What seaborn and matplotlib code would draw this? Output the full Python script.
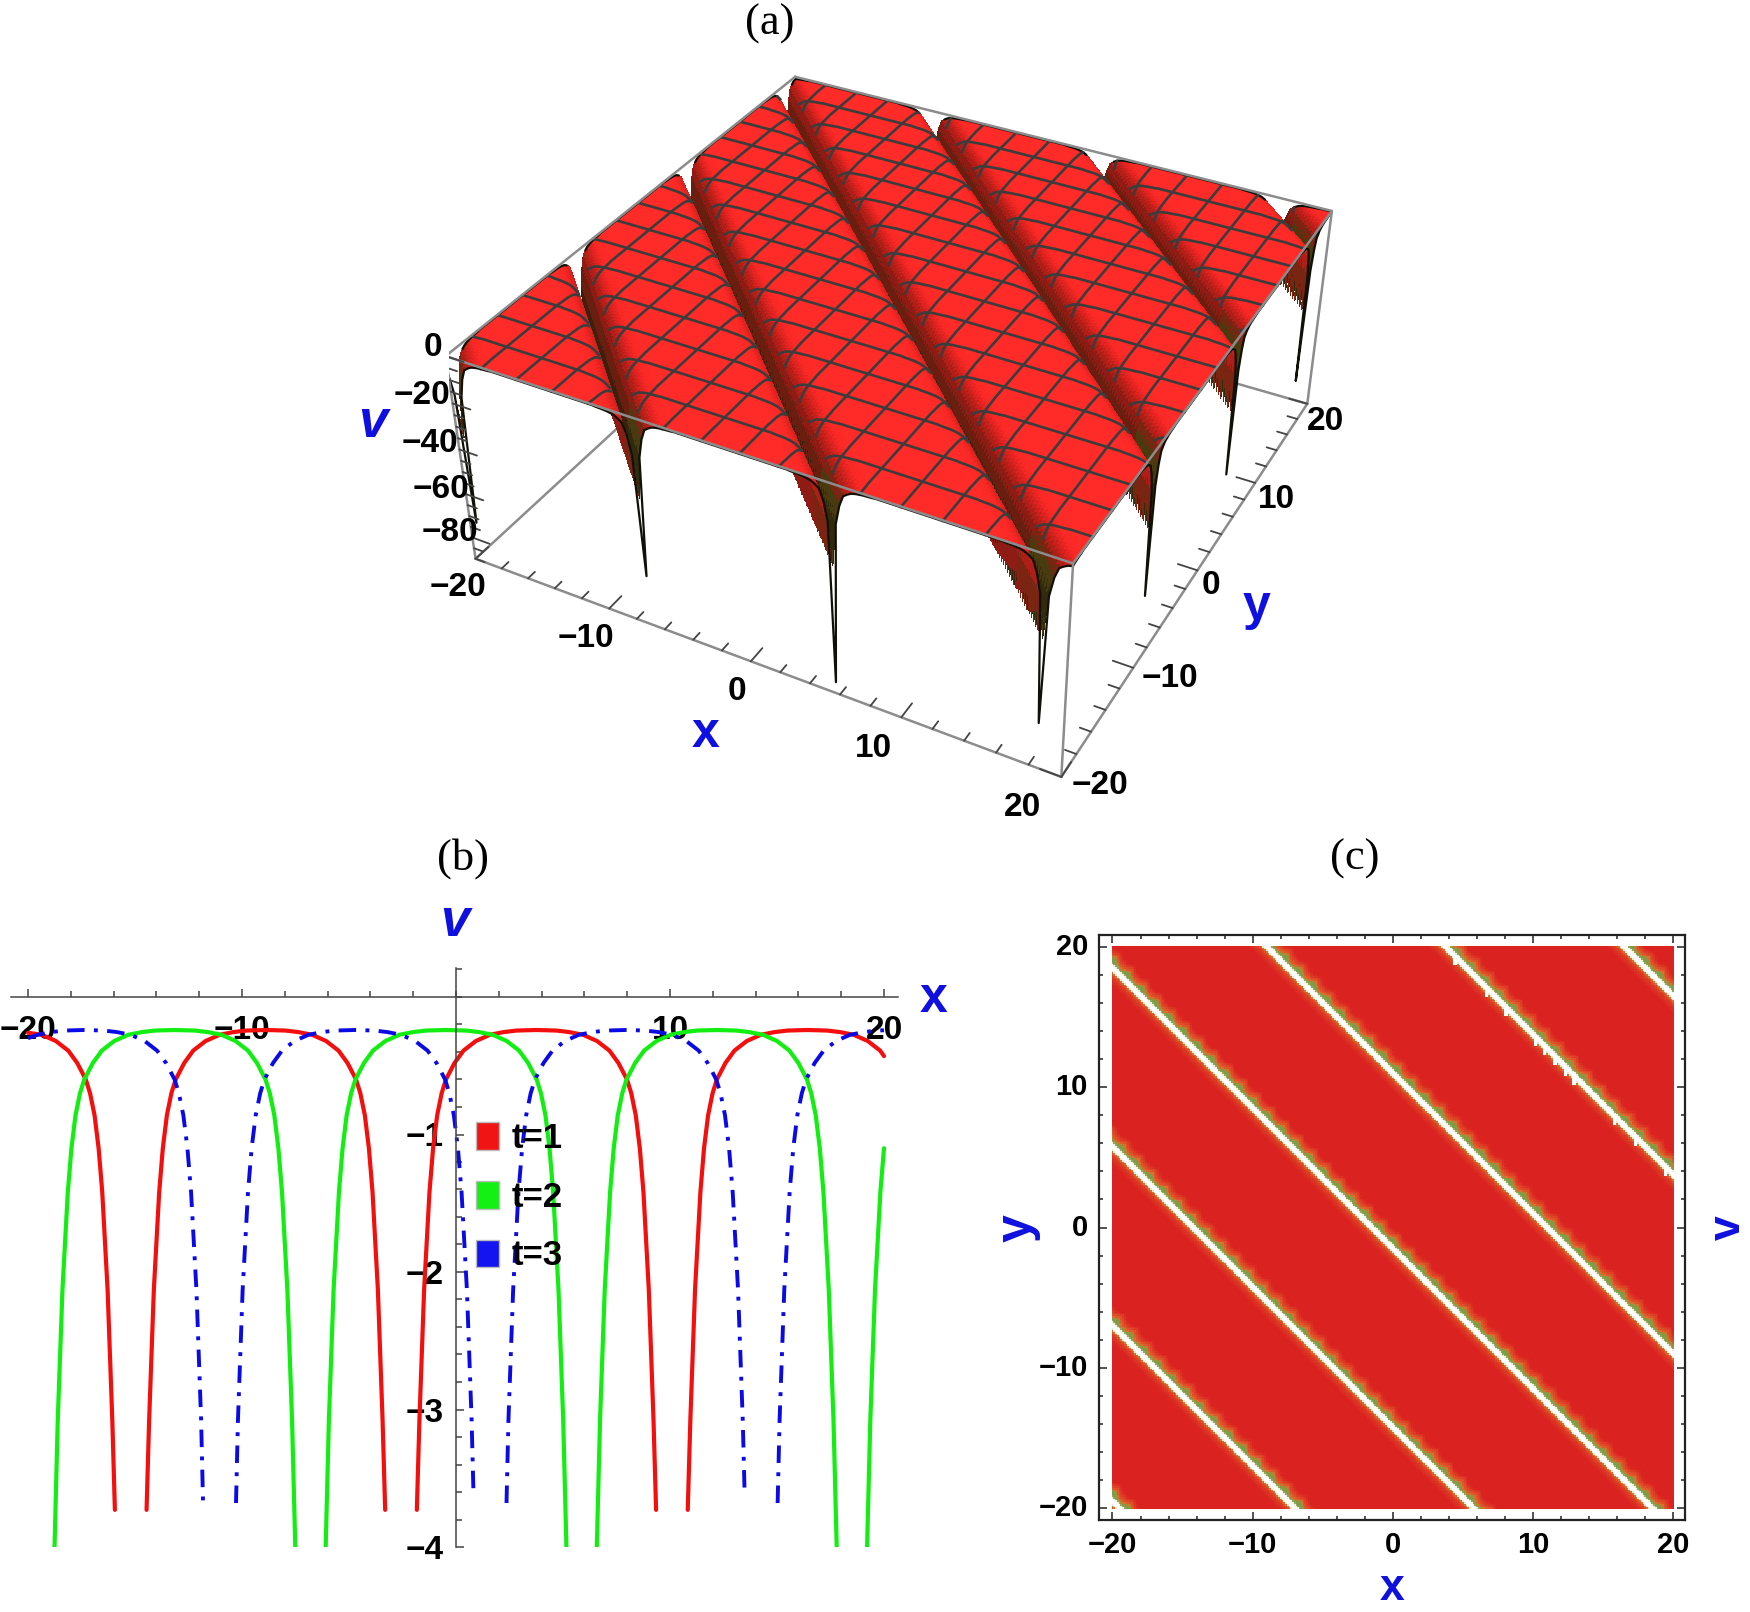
import numpy as np
import pandas as pd
import matplotlib
matplotlib.use("Agg")
import matplotlib.pyplot as plt
import seaborn as sns
from matplotlib.colors import LinearSegmentedColormap, Normalize
from matplotlib.patches import Patch

# --- values: one lobe at a time, x then v
red_lobe_v = [-3.73,-3.08,-2.13,-1.42,-1.10,-0.86,-0.70,-0.60,-0.48,-0.39,-0.32,-0.275,-0.255,-0.244,-0.24,
              -0.244,-0.255,-0.275,-0.32,-0.39,-0.48,-0.60,-0.70,-0.86,-1.10,-1.42,-2.13,-3.08,-3.73]
green_lobe_v = [-4.0,-3.08,-2.13,-1.42,-1.10,-0.86,-0.70,-0.60,-0.48,-0.39,-0.32,-0.275,-0.255,-0.244,-0.24,
                -0.244,-0.255,-0.275,-0.32,-0.39,-0.48,-0.60,-0.70,-0.86,-1.10,-1.42,-2.13,-3.08,-4.0]
blue_lobe_v = [-3.68,-3.08,-2.13,-1.42,-1.10,-0.86,-0.70,-0.60,-0.48,-0.39,-0.32,-0.275,-0.255,-0.244,-0.24,
               -0.244,-0.255,-0.275,-0.32,-0.39,-0.48,-0.60,-0.70,-0.86,-1.10,-1.42,-2.13,-3.08,-3.63]

red_x = [
    [-20.0,-19.35,-18.7,-18.12,-17.7,-17.3,-17.1,-16.89,-16.7,-16.53,-16.28,-16.06,-15.94],
    [-14.46,-14.34,-14.12,-13.87,-13.7,-13.51,-13.3,-13.1,-12.7,-12.28,-11.7,-11.05,-10.4,-9.8,-8.87,
     -7.97,-7.37,-6.72,-6.07,-5.49,-5.07,-4.67,-4.47,-4.26,-4.07,-3.9,-3.65,-3.43,-3.31],
    [-1.83,-1.71,-1.49,-1.24,-1.07,-0.88,-0.67,-0.47,-0.07,0.35,0.93,1.58,2.23,2.83,3.76,
     4.69,5.29,5.94,6.59,7.17,7.59,7.99,8.19,8.4,8.59,8.76,9.01,9.23,9.35],
    [10.83,10.95,11.17,11.42,11.59,11.78,11.99,12.19,12.59,13.01,13.59,14.24,14.89,15.49,16.42,
     17.34,17.94,18.59,19.24,19.82,20.0],
]
red_v = [
    [-0.26,-0.275,-0.32,-0.39,-0.48,-0.60,-0.70,-0.86,-1.10,-1.42,-2.13,-3.08,-3.73],
    red_lobe_v,
    red_lobe_v,
    [-3.73,-3.08,-2.13,-1.42,-1.10,-0.86,-0.70,-0.60,-0.48,-0.39,-0.32,-0.275,-0.255,-0.244,-0.24,
     -0.244,-0.255,-0.275,-0.32,-0.39,-0.43],
]
green_x = [
    [-18.76,-18.61,-18.39,-18.14,-17.97,-17.78,-17.57,-17.37,-16.97,-16.55,-15.97,-15.32,-14.67,-14.07,-13.14,
     -12.2,-11.6,-10.95,-10.3,-9.72,-9.3,-8.9,-8.7,-8.49,-8.3,-8.13,-7.88,-7.66,-7.51],
    [-6.09,-5.94,-5.72,-5.47,-5.3,-5.11,-4.9,-4.7,-4.3,-3.88,-3.3,-2.65,-2.0,-1.4,-0.47,
     0.47,1.07,1.72,2.37,2.95,3.37,3.77,3.97,4.18,4.37,4.54,4.79,5.01,5.16],
    [6.58,6.73,6.95,7.2,7.37,7.56,7.77,7.97,8.37,8.79,9.37,10.02,10.67,11.27,12.2,
     13.1,13.7,14.35,15.0,15.58,16.0,16.4,16.6,16.81,17.0,17.17,17.42,17.64,17.79],
    [19.21,19.36,19.58,19.83,20.0],
]
green_v = [green_lobe_v, green_lobe_v, green_lobe_v, [-4.0,-3.08,-2.13,-1.42,-1.10]]
blue_x = [
    [-20.0,-19.55,-18.9,-18.3,-17.38,-16.45,-15.85,-15.2,-14.55,-13.97,-13.55,-13.15,-12.95,-12.74,-12.55,
     -12.38,-12.13,-11.91,-11.82],
    [-10.28,-10.19,-9.97,-9.72,-9.55,-9.36,-9.15,-8.95,-8.55,-8.13,-7.55,-6.9,-6.25,-5.65,-4.73,
     -3.81,-3.21,-2.56,-1.91,-1.33,-0.91,-0.51,-0.31,-0.1,0.09,0.26,0.51,0.73,0.82],
    [2.36,2.45,2.67,2.92,3.09,3.28,3.49,3.69,4.09,4.51,5.09,5.74,6.39,6.99,7.92,
     8.86,9.46,10.11,10.76,11.34,11.76,12.16,12.36,12.57,12.76,12.93,13.18,13.4,13.49],
    [15.03,15.12,15.34,15.59,15.76,15.95,16.16,16.36,16.76,17.18,17.76,18.41,19.06,19.66,20.0],
]
blue_v = [
    [-0.3,-0.275,-0.255,-0.244,-0.24,-0.244,-0.255,-0.275,-0.32,-0.39,-0.48,-0.60,-0.70,-0.86,-1.10,-1.42,-2.13,-3.08,-3.68],
    blue_lobe_v,
    blue_lobe_v,
    [-3.68,-3.08,-2.13,-1.42,-1.10,-0.86,-0.70,-0.60,-0.48,-0.39,-0.32,-0.275,-0.255,-0.244,-0.242],
]
legend_labels = ["t=1", "t=2", "t=3"]
line_colors = ["#F40F0F", "#12EE12", "#0A0AE6"]

# --- panels (a) and (c): both fields only depend on x+y
valley_s = [-39.5, -27.0, -14.25, -1.5, 11.0, 23.75, 36.5]    # x+y of every valley
valley_depth = [-72, -68, -85, -70, -62, -61, -66]            # spike tip at the box edge
valley_floor = -34                                            # inside the box the valley looks this deep
surface_flat = -0.3
surface_band = [-0.48,-0.55,-0.65,-0.8,-1.08,-1.5,-2.4,-3.6,-8.0,-16.0,0.0,
                -16.0,-8.0,-3.6,-2.4,-1.5,-1.08,-0.8,-0.65,-0.55,-0.48]     # steps of 0.25 in x+y
density_band = [0,0,0,0.02,0.04,0.06,0.08,0.12,0.18,0.3,0.75,1,1,1,0.85,0.55,0.45,0.3,0.22,0.18,0.14,0.1,0.06,0.03,0]  # steps of 0.125
tooth_shift = [0,0,0,0,1,1,2,2,3,2,2,1,1,0,0,0]
notch_x = [4.35,6.6,8.0,10.1,10.8,11.5,12.2,12.9,15.8,17.2,19.4]   # white flags on the x+y=23.75 line

mesh_ticks = [-17.5,-15,-12.5,-10,-7.5,-5,-2.5,0,2.5,5,7.5,10,12.5,15,17.5]
ax_ticks = [-20,-10,0,10,20]
ax_tick_labels = ["\u221220","\u221210","0","10","20"]
z_tick_labels = ["0","\u221220","\u221240","\u221260","\u221280"]
v_ticks = [-1,-2,-3,-4]
v_tick_labels = ["\u22121","\u22122","\u22123","\u22124"]
x_b_ticks = [-20,-10,10,20]
x_b_labels = ["\u221220","\u221210","10","20"]

W, H = 1750, 1612
BLUE = "#0F0FE0"

sns.set_style("white")
plt.rcParams["font.family"] = ["Liberation Sans", "DejaVu Sans"]
plt.rcParams["font.weight"] = "bold"
plt.rcParams["text.color"] = "black"
plt.rcParams["xtick.labelcolor"] = "black"
plt.rcParams["ytick.labelcolor"] = "black"

fig = plt.figure(figsize=(W / 100, H / 100), dpi=100)


def rect(left, top, right, bottom):
    return [left / W, 1 - bottom / H, (right - left) / W, (bottom - top) / H]


def put(px, py, s, **kw):
    kw.setdefault("ha", "center")
    kw.setdefault("va", "center")
    fig.text(px / W, 1 - py / H, s, **kw)


for px, py, s in [(770, 24, "(a)"), (463, 859, "(b)"), (1355, 859, "(c)")]:
    put(px, py, s, family="Liberation Serif", fontsize=32, fontweight="normal")

# ---------- (a) surface
ax3 = fig.add_axes(rect(449, -56, 1349, 844), projection="3d", computed_zorder=False)
ax3.patch.set_alpha(0)
ax3.set_proj_type("persp", focal_length=0.45)
ax3.set_box_aspect((1, 1, 0.381), zoom=1.0)
ax3.view_init(elev=35, azim=-62)
ax3.set_axis_off()
zb = -90
ax3.set_xlim(-20, 20)
ax3.set_ylim(-20, 20)
ax3.set_zlim(zb, 0)

stripe_z = np.full(321, surface_flat)
half = len(surface_band) // 2
for s, d in zip(valley_s, valley_depth):
    k = int(round((s + 40) * 4))
    for n, val in enumerate(surface_band):
        idx = k + n - half
        if 0 <= idx < 321:
            stripe_z[idx] = d if n == half else val

grid = np.arange(161) * 0.25 - 20
X, Y = np.meshgrid(grid, grid)
ii = np.arange(161)
Z_deep = stripe_z[ii[:, None] + ii[None, :]]
Z = np.maximum(Z_deep, valley_floor)

# valleys are maroon inside, olive where they open at the two front edges
wall_in = LinearSegmentedColormap.from_list("wall_in", [
    (0.0, "#3a200c"), (0.55, "#6a1e10"), (0.78, "#8e1c14"), (0.91, "#b01e18"), (0.942, "#c8201a"),
    (0.968, "#dc2320"), (0.983, "#f02622"), (1.0, "#ff2b28")])
wall_front = LinearSegmentedColormap.from_list("wall_front", [
    (0.0, "#2e2a0c"), (0.55, "#4a3a10"), (0.78, "#7a2412"), (0.91, "#b01e18"), (0.942, "#c8201a"),
    (0.968, "#dc2320"), (0.983, "#f02622"), (1.0, "#ff2b28")])
norm = Normalize(-35, -0.4)
colors = wall_in(norm(Z))
front = (Y < -17.5) | (X > 17.5)
colors[front] = wall_front(norm(Z))[front]
ax3.plot_surface(X, Y, Z, facecolors=colors, rstride=1, cstride=1, shade=False,
                 linewidth=0, antialiased=False, zorder=2)

# mesh and outline
for m in mesh_ticks:
    k = int(round((m + 20) * 4))
    zx = np.where(Z[:, k] > -7, Z[:, k], np.nan)
    zy = np.where(Z[k, :] > -7, Z[k, :], np.nan)
    ax3.plot(np.full(161, m), grid, zx, color="#3c3c3c", lw=1.9, zorder=4)
    ax3.plot(grid, np.full(161, m), zy, color="#3c3c3c", lw=1.9, zorder=4)
ax3.plot(grid, np.full(161, -20.0), Z_deep[0, :], color="#101008", lw=1.6, zorder=5)
ax3.plot(np.full(161, 20.0), grid, Z_deep[:, -1], color="#101008", lw=1.6, zorder=5)
ax3.plot(grid, np.full(161, 20.0), np.where(Z[-1, :] > -3, Z[-1, :], np.nan), color="#101008", lw=1.6, zorder=3)
ax3.plot(np.full(161, -20.0), grid, np.where(Z[:, 0] > -3, Z[:, 0], np.nan), color="#101008", lw=1.6, zorder=3)

# box
box_c = "#8c8c8c"
c = [-20, 20]
for a in c:
    for b in c:
        ax3.plot([a, a], [b, b], [zb, 0], color=box_c, lw=1.8, zorder=1 if (a, b) == (-20, 20) else 6)
    ax3.plot([a, a], [-20, 20], [zb, zb], color=box_c, lw=1.8, zorder=1)
    ax3.plot([-20, 20], [a, a], [zb, zb], color=box_c, lw=1.8, zorder=1)
    ax3.plot([a, a], [-20, 20], [0, 0], color=box_c, lw=1.8, zorder=6)
    ax3.plot([-20, 20], [a, a], [0, 0], color=box_c, lw=1.8, zorder=6)

for t in np.arange(-20, 21, 2):
    ln = 1.3 if t % 10 == 0 else 0.7
    ax3.plot([t, t], [-20, -20 + ln], [zb, zb], color="#444444", lw=1.3, zorder=6)
    ax3.plot([20, 20 - ln], [t, t], [zb, zb], color="#444444", lw=1.3, zorder=6)
for t in np.arange(-90, 1, 5):
    ln = 1.3 if t % 20 == 0 else 0.7
    ax3.plot([-20, -20 + ln], [-20, -20], [t, t], color="#444444", lw=1.3, zorder=6)

# tick labels of the box sit where the reference has them
for (px, py), lab in zip([(458, 588), (586, 639), (737, 692), (873, 748), (1023, 807)], ax_tick_labels):
    put(px, py, lab, fontsize=24)
for (px, py), lab in zip([(1100, 786), (1170, 679), (1211, 585), (1276, 499), (1326, 422)], ax_tick_labels):
    put(px, py, lab, fontsize=24)
for (px, py), lab in zip([(433, 348), (422, 396), (430, 443), (441, 489), (450, 533)], z_tick_labels):
    put(px, py, lab, fontsize=24)

put(373, 423, "v", color=BLUE, fontsize=38, fontstyle="italic")
put(706, 734, "x", color=BLUE, fontsize=36)
put(1256, 607, "y", color=BLUE, fontsize=36)

# ---------- (b) profiles
sx = 21.4
ax_b = fig.add_axes(rect(11, 968, 898, 1547))
ax_b.set_xlim(-20 - (28 - 11) / sx, 20 + (898 - 884) / sx)
ax_b.set_ylim(-4, (997 - 968) / 137.5)
ax_b.patch.set_alpha(0)

styles = ["-", "-", (0, (4.5, 2.4, 1, 2.4))]
widths = [3.0, 3.0, 2.8]
for xs, vs, col, ls, lw, name in zip([red_x, green_x, blue_x], [red_v, green_v, blue_v], line_colors, styles, widths, legend_labels):
    rows = [pd.DataFrame({"x": a, "v": b, "lobe": n}) for n, (a, b) in enumerate(zip(xs, vs))]
    df = pd.concat(rows)
    sns.lineplot(data=df, x="x", y="v", units="lobe", estimator=None, sort=False, color=col, linestyle=ls, linewidth=lw, ax=ax_b)

for side in ["top", "right"]:
    ax_b.spines[side].set_visible(False)
ax_b.spines["left"].set_position(("data", 0))
ax_b.spines["bottom"].set_position(("data", 0))
for side in ["left", "bottom"]:
    ax_b.spines[side].set_color("#444444")
    ax_b.spines[side].set_linewidth(1.1)
ax_b.set_xlabel("")
ax_b.set_ylabel("")
ax_b.set_xticks(x_b_ticks)
ax_b.set_xticklabels(x_b_labels)
ax_b.set_xticks(np.arange(-20, 21, 2), minor=True)
ax_b.set_yticks(v_ticks)
ax_b.set_yticklabels(v_tick_labels)
ax_b.set_yticks(np.arange(-4, 0.21, 0.2), minor=True)
ax_b.tick_params(axis="both", which="both", direction="in", bottom=True, left=True, color="#444444", width=1.1)
ax_b.tick_params(axis="x", which="major", length=6, pad=13, labelsize=24)
ax_b.tick_params(axis="y", which="major", length=6, pad=9, labelsize=24)
ax_b.tick_params(axis="both", which="minor", length=4)

handles = [Patch(facecolor=col, edgecolor="#bbbbbb", linewidth=1) for col in ["#F01414", "#14F014", "#1414F0"]]
ax_b.legend(handles, legend_labels, loc="upper left", bbox_to_anchor=(476 / W, 1 - 1122 / H), bbox_transform=fig.transFigure,
            frameon=False, fontsize=25, handlelength=0.65, handleheight=0.85, handletextpad=0.38, labelspacing=0.74,
            borderpad=0, borderaxespad=0)
put(455, 922, "v", color=BLUE, fontsize=38, fontstyle="italic")
put(934, 999, "x", color=BLUE, fontsize=36)

# ---------- (c) density
cmap_c = LinearSegmentedColormap.from_list("dens", [
    (0.0, "#DA2220"), (0.2, "#E0552A"), (0.35, "#C9852F"), (0.5, "#7F9A45"), (0.75, "#E5E8C8"), (1.0, "#FFFFFF")])
N = 321
stripe_c = np.zeros(641 + 8)
half_c = len(density_band) // 2
for s in valley_s:
    k = int(round((s + 40) * 8))
    for n, val in enumerate(density_band):
        idx = k + n - half_c
        if 0 <= idx < len(stripe_c):
            stripe_c[idx] = max(stripe_c[idx], val)
jj = np.arange(N)
sums = jj[:, None] + jj[None, :]
shift = np.array(tooth_shift)[(jj[:, None] - jj[None, :]) % len(tooth_shift)]
field = np.maximum(stripe_c[sums], np.minimum(stripe_c[np.maximum(sums - shift, 0)], 0.5))
for nx in notch_x:
    i0 = int(round((nx + 20) * 8))
    j0 = int(round((23.75 - nx + 20) * 8))
    field[j0 - 5:j0, i0:i0 + 2] = 1.0
ax_c = fig.add_axes(rect(1099, 935, 1685, 1520))
sns.heatmap(np.flipud(field), vmin=0, vmax=1, cmap=cmap_c, cbar=False, ax=ax_c, linewidths=0, rasterized=True)
pad_l, pad_r, pad_v = 7.2, 6.25, 6.25
ax_c.set_xlim(-pad_l, N + pad_r)
ax_c.set_ylim(N + pad_v, -pad_v)
to_x = lambda t: (np.asarray(t, float) + 20) * 8 + 0.5
to_y = lambda t: (20 - np.asarray(t, float)) * 8 + 0.5
ax_c.set_xticks(to_x(ax_ticks))
ax_c.set_xticklabels(ax_tick_labels, rotation=0)
ax_c.set_yticks(to_y(ax_ticks))
ax_c.set_yticklabels(ax_tick_labels, rotation=0)
ax_c.set_xticks(to_x(np.arange(-20, 21, 2)), minor=True)
ax_c.set_yticks(to_y(np.arange(-20, 21, 2)), minor=True)
ax_c.tick_params(axis="both", which="both", direction="in", top=True, right=True, bottom=True, left=True, color="#222222", width=1.1)
ax_c.tick_params(axis="both", which="major", length=6, labelsize=21, pad=8)
ax_c.tick_params(axis="both", which="minor", length=3)
for sp in ax_c.spines.values():
    sp.set_visible(True)
    sp.set_color("#222222")
    sp.set_linewidth(1.6)
put(1392, 1589, "x", color=BLUE, fontsize=32)
put(1018, 1228, "y", color=BLUE, fontsize=36, rotation=90)
put(1728, 1228, "v", color=BLUE, fontsize=32, rotation=90)

fig.savefig("out.png", dpi=100)
